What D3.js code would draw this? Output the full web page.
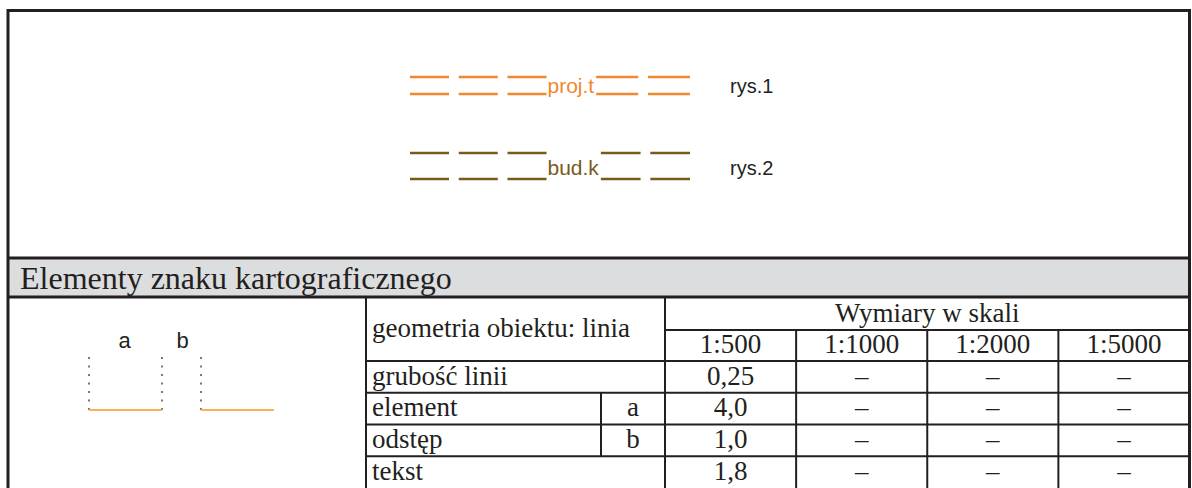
<!DOCTYPE html>
<html>
<head>
<meta charset="utf-8">
<script src="https://cdn.jsdelivr.net/npm/d3@7/dist/d3.min.js"></script>
<style>
  html, body { margin: 0; padding: 0; background: #fff; }
  svg { display: block; }
</style>
</head>
<body>
<div id="chart"></div>
<script>
// ---- data ----
const title = "Elementy znaku kartograficznego";
const geometryLabel = "geometria obiektu: linia";
const scaleHeader = "Wymiary w skali";
const scales = ["1:500", "1:1000", "1:2000", "1:5000"];
const rowLabels = ["grubość linii", "element", "odstęp", "tekst"];
const rowSymbols = ["", "a", "b", ""];
const values500 = ["0,25", "4,0", "1,0", "1,8"];
const values1000 = ["–", "–", "–", "–"];
const values2000 = ["–", "–", "–", "–"];
const values5000 = ["–", "–", "–", "–"];
const elementMm = 4.0;   // a
const gapMm = 1.0;       // b
const symbolNames = ["proj.t", "bud.k"];
const symbolFigures = ["rys.1", "rys.2"];
const dashesBefore = [3, 3];
const dashesAfter = [2, 2];
const diagramLabels = ["a", "b"];

// ---- layout ----
const W = 1192, H = 488;
const ink = "#231f20";
const sans = "Liberation Sans, Arial, sans-serif";
const serif = "Liberation Serif, Times New Roman, serif";
const svg = d3.select("#chart").append("svg").attr("width", W).attr("height", H);
svg.append("rect").attr("width", W).attr("height", H).attr("fill", "#fff");

const frameL = 8, frameR = 1189.5, frameT = 10.5;

// ---- symbol samples (top) ----
const mm = d3.scaleLinear().domain([0, 1]).range([0, 9.75]);
const symColors = ["#f0892b", "#7a5a1c"];
const rowY = d3.scalePoint().domain(symbolNames).range([85.5, 166]);
const lineOffsets = [[-8.5, 8.5], [-13, 13]];
const textDy = [7.5, 9];
const startX = 410, endX = 690;

symbolNames.forEach((name, i) => {
  const cy = rowY(name);
  const g = svg.append("g");
  const segs = [];
  let x = startX;
  for (let k = 0; k < dashesBefore[i]; k++) {
    segs.push([x, x + mm(elementMm)]);
    x += mm(elementMm) + mm(gapMm);
  }
  x -= mm(gapMm);
  const tx = x + 1;
  const t = g.append("text").attr("x", tx).attr("y", cy + textDy[i])
    .attr("font-family", sans).attr("font-size", 21).attr("fill", symColors[i]).text(name);
  const tEnd = tx + t.node().getComputedTextLength() + 2;
  const room = endX - tEnd;
  const n = dashesAfter[i];
  const gap = Math.min(mm(gapMm), Math.max(3, room - n * mm(elementMm)) / (n - 1));
  const dash = (room - gap * (n - 1)) / n;
  for (let k = 0; k < n; k++) {
    const s = tEnd + k * (dash + gap);
    segs.push([s, s + dash]);
  }
  lineOffsets[i].forEach(off => {
    g.selectAll(null).data(segs).enter().append("line")
      .attr("x1", d => d[0]).attr("x2", d => d[1])
      .attr("y1", cy + off).attr("y2", cy + off)
      .attr("stroke", symColors[i]).attr("stroke-width", 2.6);
  });
  g.append("text").attr("x", 730).attr("y", cy + textDy[i])
    .attr("font-family", sans).attr("font-size", 20).attr("fill", ink).text(symbolFigures[i]);
});

// ---- header band ----
const bandT = 258, bandB = 297;
svg.append("rect").attr("x", frameL).attr("y", bandT).attr("width", frameR - frameL).attr("height", bandB - bandT)
  .attr("fill", "#dcdddf");
svg.append("text").attr("x", 20).attr("y", 289)
  .attr("font-family", serif).attr("font-size", 32).attr("fill", ink).text(title);

// ---- table ----
const tabL = 366, colSplit = 665, subSplit = 601;
const colX = d3.scaleBand().domain(scales).range([colSplit, frameR]);
const rowTop = d3.scaleBand().domain(rowLabels).range([361, 361 + 4 * 31.75]);
const hdrMid = 330;
const allVals = [values500, values1000, values2000, values5000];
const tl = svg.append("g").attr("stroke", ink).attr("stroke-width", 2);

rowLabels.forEach(r => {
  tl.append("line").attr("x1", tabL).attr("x2", frameR).attr("y1", rowTop(r)).attr("y2", rowTop(r));
});
tl.append("line").attr("x1", colSplit).attr("x2", frameR).attr("y1", hdrMid).attr("y2", hdrMid);
tl.append("line").attr("x1", tabL).attr("x2", tabL).attr("y1", bandB).attr("y2", H);
tl.append("line").attr("x1", colSplit).attr("x2", colSplit).attr("y1", bandB).attr("y2", H);
scales.slice(1).forEach(s => {
  tl.append("line").attr("x1", colX(s)).attr("x2", colX(s)).attr("y1", hdrMid).attr("y2", H);
});
tl.append("line").attr("x1", subSplit).attr("x2", subSplit)
  .attr("y1", rowTop("element")).attr("y2", rowTop("odstęp") + rowTop.bandwidth());

const tt = svg.append("g").attr("font-family", serif).attr("font-size", 27).attr("fill", ink);
tt.append("text").attr("x", 372).attr("y", 337).text(geometryLabel);
tt.append("text").attr("x", (colSplit + frameR) / 2).attr("y", 322).attr("text-anchor", "middle").text(scaleHeader);
scales.forEach(s => {
  tt.append("text").attr("x", colX(s) + colX.bandwidth() / 2).attr("y", 353).attr("text-anchor", "middle").text(s);
});
rowLabels.forEach((r, i) => {
  const by = rowTop(r) + 23.5;
  tt.append("text").attr("x", 372).attr("y", by).text(r);
  if (rowSymbols[i]) {
    tt.append("text").attr("x", (subSplit + colSplit) / 2).attr("y", by).attr("text-anchor", "middle").text(rowSymbols[i]);
  }
  scales.forEach((s, j) => {
    tt.append("text").attr("x", colX(s) + colX.bandwidth() / 2).attr("y", by)
      .attr("text-anchor", "middle").text(allVals[j][i]);
  });
});

// ---- left diagram ----
const dg = svg.append("g");
const dScale = d3.scaleLinear().domain([0, elementMm]).range([0, 73]);
const dGapPx = 39;
const dx0 = 89, dyTop = 357, dyBase = 410;
const seg1 = [dx0, dx0 + dScale(elementMm)];
const seg2 = [seg1[1] + dGapPx, seg1[1] + dGapPx + dScale(elementMm)];
[seg1[0], seg1[1], seg2[0]].forEach(x => {
  dg.append("line").attr("x1", x).attr("x2", x).attr("y1", dyTop).attr("y2", dyBase)
    .attr("stroke", ink).attr("stroke-width", 1.2).attr("stroke-dasharray", "2,6.5");
});
[seg1, seg2].forEach(s => {
  dg.append("line").attr("x1", s[0]).attr("x2", s[1]).attr("y1", dyBase).attr("y2", dyBase)
    .attr("stroke", "#f7b257").attr("stroke-width", 2);
});
dg.append("text").attr("x", (seg1[0] + seg1[1]) / 2 - 1).attr("y", 348).attr("text-anchor", "middle")
  .attr("font-family", sans).attr("font-size", 22).attr("fill", ink).text(diagramLabels[0]);
dg.append("text").attr("x", (seg1[1] + seg2[0]) / 2 + 1).attr("y", 348).attr("text-anchor", "middle")
  .attr("font-family", sans).attr("font-size", 22).attr("fill", ink).text(diagramLabels[1]);

// ---- outer frame ----
svg.append("path").attr("d", `M${frameL},${H} V${frameT} H${frameR} V${H}`)
  .attr("fill", "none").attr("stroke", ink).attr("stroke-width", 3);
svg.append("g").attr("stroke", ink).attr("stroke-width", 3).selectAll("line")
  .data([bandT, bandB]).enter().append("line")
  .attr("x1", frameL).attr("x2", frameR).attr("y1", d => d).attr("y2", d => d);
</script>
</body>
</html>
